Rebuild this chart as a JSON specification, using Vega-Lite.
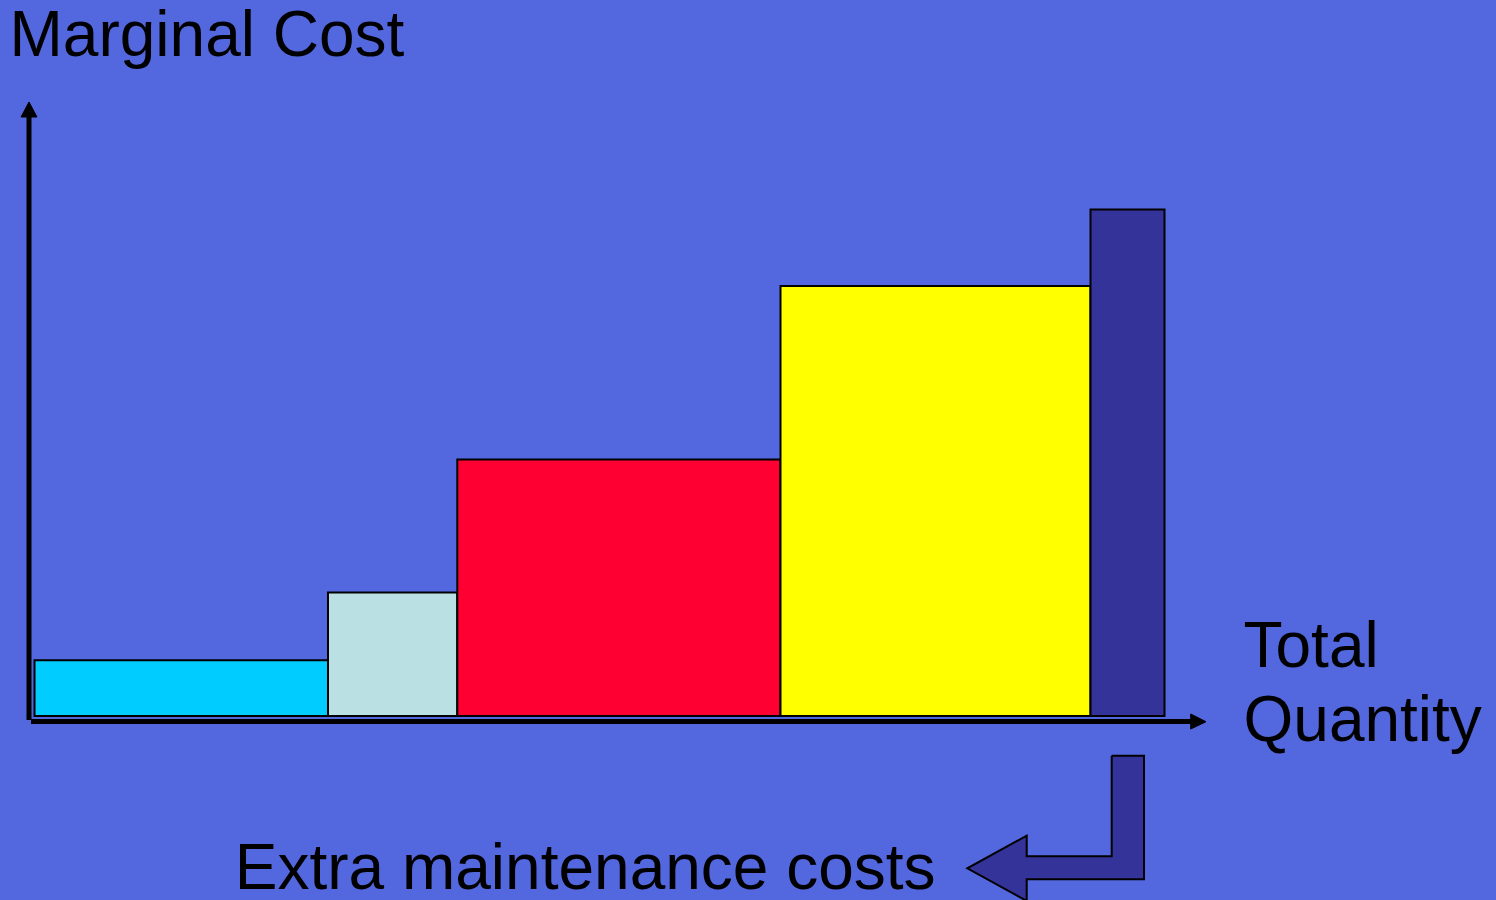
{
  "$schema": "https://vega.github.io/schema/vega-lite/v6.json",
  "width": 1496,
  "height": 900,
  "autosize": {"type": "none"},
  "padding": 0,
  "background": "#5367DE",
  "config": {"view": {"stroke": null}},
  "datasets": {
    "costBlocks": [
      {"block": "A", "q0": 0.55, "q1": 29.9, "cost": 5.58},
      {"block": "B", "q0": 29.9, "q1": 42.83, "cost": 12.35},
      {"block": "C", "q0": 42.83, "q1": 75.15, "cost": 25.65},
      {"block": "D", "q0": 75.15, "q1": 106.15, "cost": 43.0},
      {"block": "E", "q0": 106.15, "q1": 113.55, "cost": 50.65}
    ],
    "axisLines": [
      {"axis": "cost", "q": 0, "c": -0.4},
      {"axis": "cost", "q": 0, "c": 59.9},
      {"axis": "quantity", "q": 0.2, "c": -0.55},
      {"axis": "quantity", "q": 116.2, "c": -0.55}
    ],
    "arrowHeads": [
      {"head": "cost", "i": 0, "q": -0.8, "c": 59.9},
      {"head": "cost", "i": 1, "q": 0, "c": 61.4},
      {"head": "cost", "i": 2, "q": 0.8, "c": 59.9},
      {"head": "cost", "i": 3, "q": -0.8, "c": 59.9},
      {"head": "quantity", "i": 0, "q": 116.17, "c": 0.2},
      {"head": "quantity", "i": 1, "q": 117.7, "c": -0.57},
      {"head": "quantity", "i": 2, "q": 116.17, "c": -1.3},
      {"head": "quantity", "i": 3, "q": 116.17, "c": 0.2}
    ],
    "bentArrow": [
      {"i": 0, "q": 108.27, "c": -3.97},
      {"i": 1, "q": 111.5, "c": -3.97},
      {"i": 2, "q": 111.5, "c": -16.33},
      {"i": 3, "q": 99.77, "c": -16.33},
      {"i": 4, "q": 99.77, "c": -18.49},
      {"i": 5, "q": 93.83, "c": -15.23},
      {"i": 6, "q": 99.77, "c": -11.97},
      {"i": 7, "q": 99.77, "c": -14.03},
      {"i": 8, "q": 108.27, "c": -14.03},
      {"i": 9, "q": 108.27, "c": -3.97}
    ],
    "labels": [
      {"text": "Marginal Cost", "q": -1.95, "c": 66.0},
      {"text": "Total", "q": 121.45, "c": 4.93},
      {"text": "Quantity", "q": 121.45, "c": -2.47},
      {"text": "Extra maintenance costs", "q": 20.58, "c": -17.3}
    ]
  },
  "layer": [
    {
      "data": {"name": "axisLines"},
      "mark": {"type": "line", "color": "black", "strokeWidth": 5, "strokeCap": "butt"},
      "encoding": {
        "x": {"field": "q", "type": "quantitative", "scale": {"domain": [-2.9, 146.7], "nice": false, "zero": false}, "axis": null},
        "y": {"field": "c", "type": "quantitative", "scale": {"domain": [-18.4, 71.6], "nice": false, "zero": false}, "axis": null},
        "detail": {"field": "axis"}
      }
    },
    {
      "data": {"name": "arrowHeads"},
      "mark": {"type": "line", "fill": "black", "stroke": "black", "strokeWidth": 1, "strokeJoin": "miter"},
      "encoding": {
        "x": {"field": "q", "type": "quantitative"},
        "y": {"field": "c", "type": "quantitative"},
        "detail": {"field": "head"},
        "order": {"field": "i", "type": "quantitative"}
      }
    },
    {
      "data": {"name": "costBlocks"},
      "mark": {"type": "rect", "stroke": "black", "strokeWidth": 2},
      "encoding": {
        "x": {"field": "q0", "type": "quantitative"},
        "x2": {"field": "q1"},
        "y": {"field": "cost", "type": "quantitative"},
        "y2": {"datum": 0},
        "fill": {
          "field": "block",
          "type": "nominal",
          "scale": {"domain": ["A", "B", "C", "D", "E"], "range": ["#00CCFF", "#BBE0E3", "#FF0033", "#FFFF00", "#333399"]},
          "legend": null
        }
      }
    },
    {
      "data": {"name": "bentArrow"},
      "mark": {"type": "line", "fill": "#333399", "stroke": "black", "strokeWidth": 2, "strokeJoin": "miter"},
      "encoding": {
        "x": {"field": "q", "type": "quantitative"},
        "y": {"field": "c", "type": "quantitative"},
        "order": {"field": "i", "type": "quantitative"}
      }
    },
    {
      "data": {"name": "labels"},
      "mark": {"type": "text", "font": "Liberation Sans", "fontSize": 64, "align": "left", "baseline": "alphabetic", "color": "black"},
      "encoding": {
        "x": {"field": "q", "type": "quantitative"},
        "y": {"field": "c", "type": "quantitative"},
        "text": {"field": "text"}
      }
    }
  ]
}
